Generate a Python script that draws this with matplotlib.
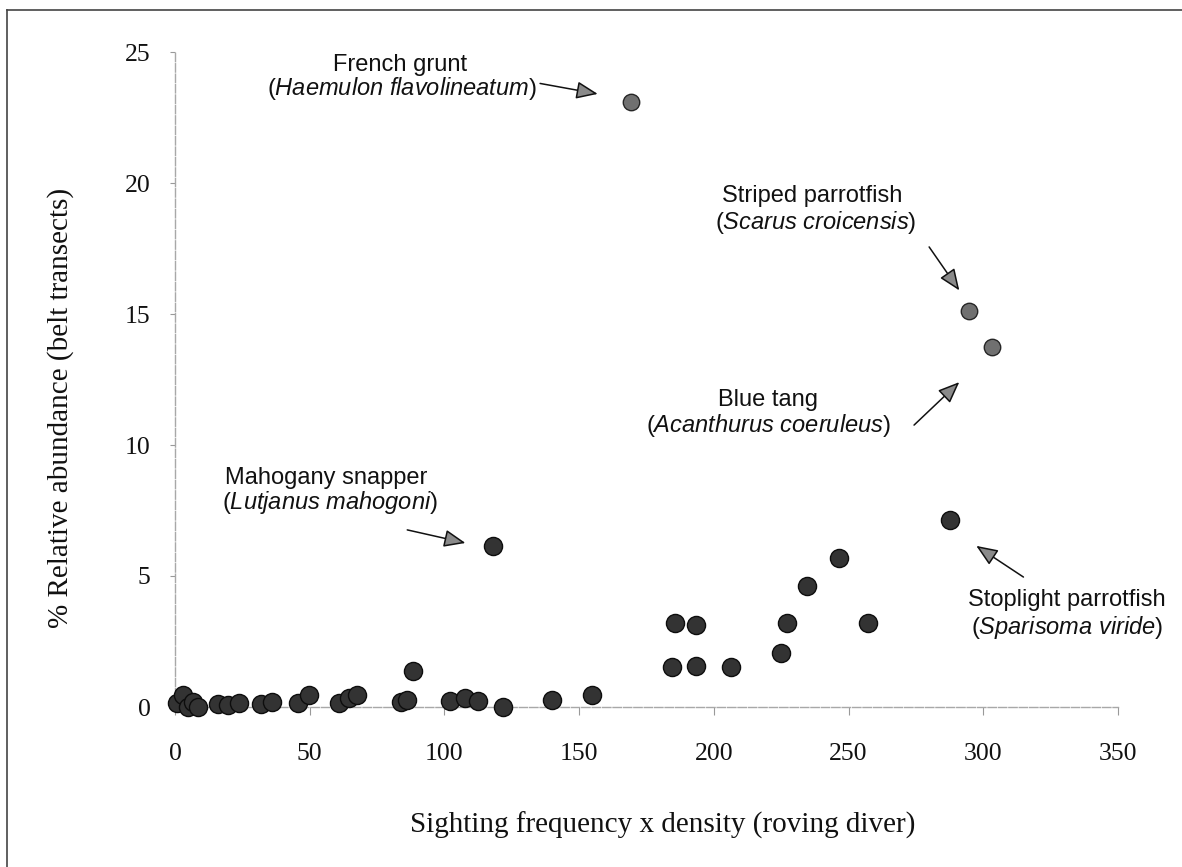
import matplotlib
matplotlib.use("Agg")
import matplotlib.pyplot as plt
from matplotlib.lines import Line2D

plt.rcParams["mathtext.fontset"] = "custom"
plt.rcParams["mathtext.rm"] = "Liberation Sans"
plt.rcParams["mathtext.it"] = "Liberation Sans:italic"

# Sighting frequency x density (roving diver) vs % relative abundance (belt transects)
other_x = [0.7, 3.0, 4.8, 6.7, 8.6, 16.0, 19.7, 23.8, 32.0, 36.0, 45.7, 49.8,
           61.0, 64.5, 67.5, 84.0, 86.0, 88.5, 102.2, 107.8, 112.3, 121.6,
           140.1, 154.6, 184.4, 185.5, 193.3, 193.3, 206.3, 224.9, 227.1,
           234.6, 246.5, 257.2]
other_y = [0.15, 0.46, 0.0, 0.2, 0.0, 0.1, 0.08, 0.15, 0.1, 0.2, 0.15, 0.46,
           0.15, 0.35, 0.46, 0.2, 0.25, 1.37, 0.23, 0.34, 0.23, 0.0,
           0.27, 0.46, 1.53, 3.2, 1.56, 3.13, 1.53, 2.06, 3.2,
           4.62, 5.69, 3.2]

# Labelled species
mahogany_x, mahogany_y = [118.2], [6.15]
stoplight_x, stoplight_y = [287.7], [7.14]
grunt_x, grunt_y = [169.1], [23.1]
striped_x, striped_y = [294.8], [15.1]
bluetang_x, bluetang_y = [303.3], [13.75]

x_ticks = [0, 50, 100, 150, 200, 250, 300, 350]
y_ticks = [0, 5, 10, 15, 20, 25]

W, H = 1182, 867
fig = plt.figure(figsize=(W / 100, H / 100), dpi=100)
fig.patch.set_facecolor("white")
ax = fig.add_axes([175 / W, 1 - 707 / H, (1118 - 175) / W, (707 - 52) / H])

dark_kw = dict(s=170, facecolor="#333333", edgecolor="#0d0d0d", linewidths=1.0,
               clip_on=False, zorder=3)
light_kw = dict(s=140, facecolor="#707070", edgecolor="#262626", linewidths=1.0,
                clip_on=False, zorder=3)

ax.scatter(other_x, other_y, **dark_kw)
ax.scatter(mahogany_x, mahogany_y, **dark_kw)
ax.scatter(stoplight_x, stoplight_y, **dark_kw)
ax.scatter(grunt_x, grunt_y, **light_kw)
ax.scatter(striped_x, striped_y, **light_kw)
ax.scatter(bluetang_x, bluetang_y, **light_kw)

ax.set_xlim(0, 350)
ax.set_ylim(0, 25)
ax.set_xticks(x_ticks)
ax.set_yticks(y_ticks)

for side in ("top", "right"):
    ax.spines[side].set_visible(False)
for side in ("left", "bottom"):
    ax.spines[side].set_color("#a8a8a8")
    ax.spines[side].set_linewidth(1.0)
    ax.spines[side].set_linestyle((0, (6, 1.5)))

ax.tick_params(axis="y", direction="out", length=3.6, width=0.8, color="#999999",
               pad=14, labelsize=18.5)
ax.tick_params(axis="x", direction="out", length=5.8, width=0.8, color="#999999",
               pad=20, labelsize=18.5)
for lbl in ax.get_xticklabels() + ax.get_yticklabels():
    lbl.set_fontfamily("Liberation Serif")
    lbl.set_color("#111111")

fig.text(663 / W, 1 - 825 / H, "Sighting frequency x density (roving diver)",
         ha="center", va="center", fontsize=21, family="Liberation Serif",
         color="#111111")
fig.text(61 / W, 1 - 408 / H, "% Relative abundance (belt transects)",
         ha="center", va="center", rotation=90, fontsize=21,
         family="Liberation Serif", color="#111111")

ann_font = dict(fontsize=17, family="Liberation Sans", color="#111111",
                ha="center", va="center")
arrow_kw = dict(arrowstyle="-|>,head_length=1.1,head_width=0.45",
                mutation_scale=12, shrinkA=0, shrinkB=0,
                ec="#111111", fc="#8a8a8a", lw=1.1)

labels = [
    ("French grunt", r"($\it{Haemulon\ flavolineatum}$)",
     (83.5, 24.5), (84.2, 23.6), (135.5, 23.8), (156.9, 23.4)),
    ("Mahogany snapper", r"($\it{Lutjanus\ mahogoni}$)",
     (56.1, 8.74), (57.6, 7.79), (86.2, 6.76), (107.8, 6.26)),
    ("Striped parrotfish", r"($\it{Scarus\ croicensis}$)",
     (236.4, 19.5), (237.9, 18.5), (279.9, 17.56), (291.1, 15.9)),
    ("Blue tang", r"($\it{Acanthurus\ coeruleus}$)",
     (220.1, 11.72), (220.1, 10.73), (274.3, 10.76), (291.1, 12.4)),
    ("Stoplight parrotfish", r"($\it{Sparisoma\ viride}$)",
     (331.0, 4.08), (331.0, 3.05), (314.9, 4.96), (297.4, 6.15)),
]
for common, latin, p1, p2, tail, tip in labels:
    ax.text(*p1, common, clip_on=False, **ann_font)
    ax.text(*p2, latin, clip_on=False, **ann_font)
    ax.annotate("", xy=tip, xytext=tail, arrowprops=arrow_kw,
                annotation_clip=False)

# Frame around the figure
fig.add_artist(Line2D([7 / W, 7 / W], [0, 1 - 10 / H], color="#444444", lw=1.2))
fig.add_artist(Line2D([7 / W, 1], [1 - 10 / H, 1 - 10 / H], color="#444444", lw=1.2))

fig.savefig("out.png", dpi=100)
